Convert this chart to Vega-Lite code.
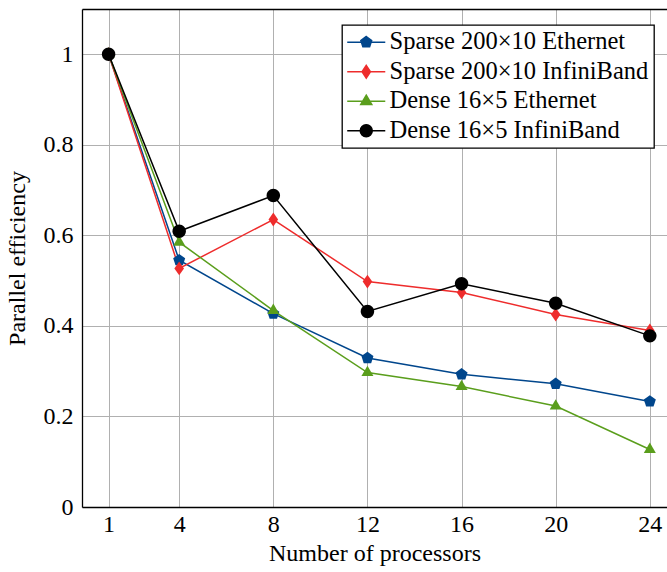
{
  "$schema": "https://vega.github.io/schema/vega-lite/v6.json",
  "width": 585,
  "height": 498,
  "autosize": {"type": "none"},
  "padding": {"left": 82, "top": 9, "right": 0, "bottom": 65},
  "background": "white",
  "config": {
    "font": "Liberation Serif",
    "view": {"stroke": null},
    "axis": {
      "labelFont": "Liberation Serif",
      "titleFont": "Liberation Serif",
      "labelFontSize": 24,
      "titleFontSize": 24,
      "labelColor": "black",
      "titleColor": "black",
      "titleFontWeight": "normal",
      "domainColor": "black",
      "domainWidth": 1.3,
      "gridColor": "#b0b0b0",
      "gridWidth": 1,
      "gridOpacity": 1,
      "ticks": false
    },
    "legend": {"strokeWidth": 1.3}
  },
  "data": {
    "values": [
      {"p": 1, "s": "Sparse 200×10 Ethernet", "e": 1.0},
      {"p": 4, "s": "Sparse 200×10 Ethernet", "e": 0.545},
      {"p": 8, "s": "Sparse 200×10 Ethernet", "e": 0.427},
      {"p": 12, "s": "Sparse 200×10 Ethernet", "e": 0.329},
      {"p": 16, "s": "Sparse 200×10 Ethernet", "e": 0.293},
      {"p": 20, "s": "Sparse 200×10 Ethernet", "e": 0.272},
      {"p": 24, "s": "Sparse 200×10 Ethernet", "e": 0.233},
      {"p": 1, "s": "Sparse 200×10 InfiniBand", "e": 1.0},
      {"p": 4, "s": "Sparse 200×10 InfiniBand", "e": 0.527},
      {"p": 8, "s": "Sparse 200×10 InfiniBand", "e": 0.635},
      {"p": 12, "s": "Sparse 200×10 InfiniBand", "e": 0.498},
      {"p": 16, "s": "Sparse 200×10 InfiniBand", "e": 0.474},
      {"p": 20, "s": "Sparse 200×10 InfiniBand", "e": 0.425},
      {"p": 24, "s": "Sparse 200×10 InfiniBand", "e": 0.39},
      {"p": 1, "s": "Dense 16×5 Ethernet", "e": 1.0},
      {"p": 4, "s": "Dense 16×5 Ethernet", "e": 0.585},
      {"p": 8, "s": "Dense 16×5 Ethernet", "e": 0.434},
      {"p": 12, "s": "Dense 16×5 Ethernet", "e": 0.297},
      {"p": 16, "s": "Dense 16×5 Ethernet", "e": 0.266},
      {"p": 20, "s": "Dense 16×5 Ethernet", "e": 0.223},
      {"p": 24, "s": "Dense 16×5 Ethernet", "e": 0.127},
      {"p": 1, "s": "Dense 16×5 InfiniBand", "e": 1.0},
      {"p": 4, "s": "Dense 16×5 InfiniBand", "e": 0.609},
      {"p": 8, "s": "Dense 16×5 InfiniBand", "e": 0.688},
      {"p": 12, "s": "Dense 16×5 InfiniBand", "e": 0.432},
      {"p": 16, "s": "Dense 16×5 InfiniBand", "e": 0.493},
      {"p": 20, "s": "Dense 16×5 InfiniBand", "e": 0.45},
      {"p": 24, "s": "Dense 16×5 InfiniBand", "e": 0.378}
    ]
  },
  "layer": [
    {
      "mark": {"type": "line", "strokeWidth": 1.5},
      "encoding": {
        "x": {"field": "p", "type": "quantitative", "scale": {"domain": [-0.13, 24.73], "nice": false, "zero": false},
              "axis": {"values": [1, 4, 8, 12, 16, 20, 24], "title": "Number of processors", "grid": true, "labelPadding": 5, "titlePadding": 5}},
        "y": {"field": "e", "type": "quantitative", "scale": {"domain": [0, 1.1], "nice": false},
              "axis": {"values": [0, 0.2, 0.4, 0.6, 0.8, 1], "format": ".1~f", "title": "Parallel efficiency", "grid": true, "labelPadding": 9, "titlePadding": 14}},
        "color": {"field": "s", "type": "nominal",
                  "scale": {"domain": ["Sparse 200×10 Ethernet", "Sparse 200×10 InfiniBand", "Dense 16×5 Ethernet", "Dense 16×5 InfiniBand"],
                            "range": ["#00468c", "#ee2c2c", "#5a9e1c", "#000000"]},
                  "legend": null},
        "order": {"field": "p", "type": "quantitative"}
      }
    },
    {
      "mark": {"type": "point", "filled": true, "size": 144, "opacity": 1},
      "encoding": {
        "x": {"field": "p", "type": "quantitative", "axis": null},
        "y": {"field": "e", "type": "quantitative", "axis": null},
        "color": {"field": "s", "type": "nominal", "legend": null},
        "shape": {"field": "s", "type": "nominal",
                  "scale": {"domain": ["Sparse 200×10 Ethernet", "Sparse 200×10 InfiniBand", "Dense 16×5 Ethernet", "Dense 16×5 InfiniBand"],
                            "range": [
                              "M0,-1.05L1,-0.324L0.617,0.849L-0.617,0.849L-1,-0.324Z",
                              "M0,-1.15L0.8,0L0,1.15L-0.8,0Z",
                              "M0,-1.15L1,0.58L-1,0.58Z",
                              "M1.12,0A1.12,1.12,0,1,1,-1.12,0A1.12,1.12,0,1,1,1.12,0Z"
                            ]},
                  "legend": null}
      }
    },
    {
      "mark": {"type": "point", "filled": true, "size": 144, "opacity": 0, "strokeWidth": 1.5},
      "encoding": {
        "x": {"field": "p", "type": "quantitative",
              "axis": {"orient": "top", "labels": false, "ticks": false, "grid": false, "title": null, "domain": true}},
        "y": {"field": "e", "type": "quantitative", "axis": null},
        "fill": {"field": "s", "type": "nominal",
                 "scale": {"domain": ["Sparse 200×10 Ethernet", "Sparse 200×10 InfiniBand", "Dense 16×5 Ethernet", "Dense 16×5 InfiniBand"],
                           "range": ["#00468c", "#ee2c2c", "#5a9e1c", "#000000"]},
                 "legend": {"orient": "none", "legendX": 260, "legendY": 16, "title": null}},
        "stroke": {"field": "s", "type": "nominal",
                   "scale": {"domain": ["Sparse 200×10 Ethernet", "Sparse 200×10 InfiniBand", "Dense 16×5 Ethernet", "Dense 16×5 InfiniBand"],
                             "range": ["#00468c", "#ee2c2c", "#5a9e1c", "#000000"]},
                   "legend": {"orient": "none", "legendX": 260, "legendY": 16, "title": null}},
        "shape": {"field": "s", "type": "nominal",
                  "scale": {"domain": ["Sparse 200×10 Ethernet", "Sparse 200×10 InfiniBand", "Dense 16×5 Ethernet", "Dense 16×5 InfiniBand"],
                            "range": [
                              "M-3.17,0H3.17M0,-0.95L0.9,-0.29L0.56,0.77L-0.56,0.77L-0.9,-0.29Z",
                              "M-3.17,0H3.17M0,-1.05L0.7,0L0,1.05L-0.7,0Z",
                              "M-3.17,0H3.17M0,-1.0L0.92,0.55L-0.92,0.55Z",
                              "M-3.17,0H3.17M1.0,0A1.0,1.0,0,1,1,-1.0,0A1.0,1.0,0,1,1,1.0,0Z"
                            ]},
                  "legend": {"orient": "none", "legendX": 260, "legendY": 16, "title": null,
                             "symbolSize": 144, "symbolStrokeWidth": 1.5, "symbolOpacity": 1,
                             "labelFont": "Liberation Serif", "labelFontSize": 24.5, "labelColor": "black", "labelLimit": 500,
                             "strokeColor": "black", "fillColor": "white", "padding": 5, "rowPadding": 4.5,
                             "labelOffset": 11, "symbolOffset": 7}}
      }
    }
  ],
  "resolve": {
    "scale": {"shape": "independent", "fill": "independent", "stroke": "independent"},
    "axis": {"x": "independent", "y": "independent"},
    "legend": {"shape": "independent", "fill": "independent", "stroke": "independent"}
  }
}
